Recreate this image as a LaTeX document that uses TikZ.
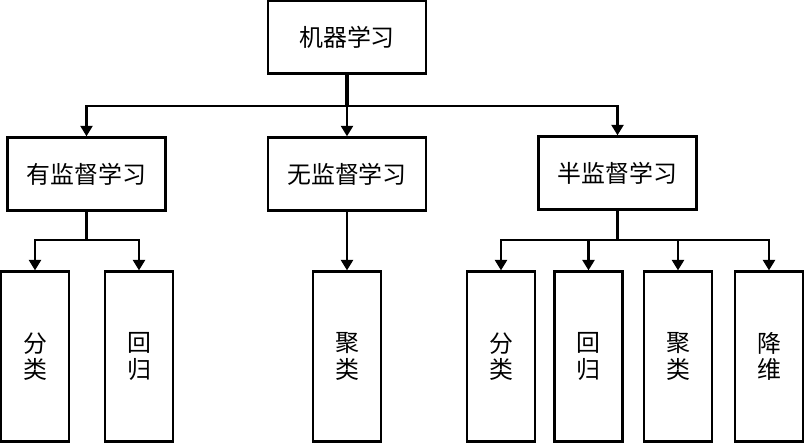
\documentclass[tikz,border=0pt]{standalone}
\usepackage{fontspec}
\newfontfamily\cjk{Noto Sans CJK SC}
\usetikzlibrary{arrows.meta}

\tikzset{
  box/.style={draw, line width=1.6pt, inner sep=0pt, font=\cjk\fontsize{17}{19}\selectfont},
  widebox/.style={box, minimum width=3.95cm, minimum height=1.83cm},
  tallbox/.style={box, minimum width=1.7cm, minimum height=4.25cm, align=center},
  link/.style={line width=1.6pt, -{Triangle[width=0.3cm, length=0.26cm]}},
  trunk/.style={line width=2.3pt}
}

\begin{document}
\begin{tikzpicture}[x=0.025cm, y=-0.025cm]
\useasboundingbox (0,0) rectangle (804,443);

% top level
\node[widebox] (ml) at (347,37) {机器学习};

% second level
\node[widebox] (sup) at (86.5,174) {有监督学习};
\node[widebox] (unsup) at (347,174) {无监督学习};
\node[widebox] (semi) at (617.5,173) {半监督学习};

% third level
\node[tallbox] (supcls) at (35,356.5) {分\\类};
\node[tallbox] (supreg) at (139,356.5) {回\\归};
\node[tallbox] (unsupclu) at (347,356.5) {聚\\类};
\node[tallbox] (semicls) at (501,356.5) {分\\类};
\node[tallbox] (semireg) at (588.5,356.5) {回\\归};
\node[tallbox] (semiclu) at (678,356.5) {聚\\类};
\node[tallbox] (semidim) at (769,356.5) {降\\维};

% bus junctions
\coordinate (bustop) at (347,106);
\coordinate (busleft) at (86.5,240);
\coordinate (busright) at (617.5,240);

\draw[trunk] (ml.south) -- (bustop);
\draw[link] (bustop) -| (sup.north);
\draw[link] (bustop) -- (unsup.north);
\draw[link] (bustop) -| (semi.north);

\draw[trunk] (sup.south) -- (busleft);
\draw[link] (busleft) -| (supcls.north);
\draw[link] (busleft) -| (supreg.north);

\draw[link] (unsup.south) -- (unsupclu.north);

\draw[line width=1.6pt] (semi.south) -- (busright);
\draw[link] (busright) -| (semicls.north);
\draw[link] (busright) -| (semireg.north);
\draw[link] (busright) -| (semiclu.north);
\draw[link] (busright) -| (semidim.north);
\end{tikzpicture}
\end{document}
